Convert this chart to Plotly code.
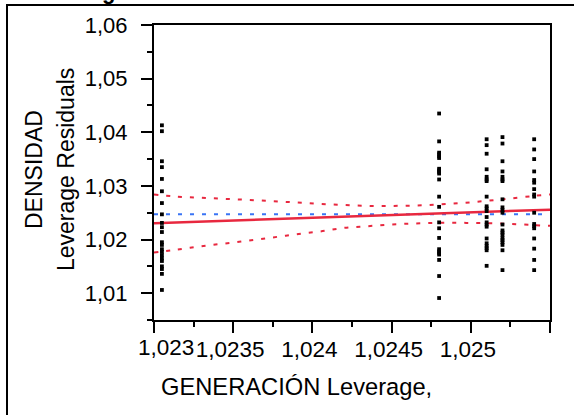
import plotly.graph_objects as go

# ---- axis ticks ----
y_tick_vals = [1.01, 1.02, 1.03, 1.04, 1.05, 1.06]
y_tick_text = ["1,01", "1,02", "1,03", "1,04", "1,05", "1,06"]
x_tick_vals = [1.023, 1.0235, 1.024, 1.0245, 1.025, 1.0255]
x_tick_text = ["1,023", "1,0235", "1,024", "1,0245", "1,025", ""]
x_range = [1.023, 1.0255]
y_range = [1.005, 1.06]

# ---- leverage x positions of the five groups ----
x_levels = [1.02305, 1.02480, 1.02510, 1.02520, 1.02540]

# ---- leverage residuals per group ----
y_g1 = [1.0413, 1.0402, 1.0346, 1.0335, 1.0313, 1.0290, 1.0268, 1.0247, 1.0231, 1.0223, 1.0214,
        1.0195, 1.0190, 1.0182, 1.0177, 1.0171, 1.0165, 1.0160, 1.0150, 1.0145, 1.0136, 1.0106]
y_g2 = [1.0435, 1.0383, 1.0362, 1.0359, 1.0355, 1.0352, 1.0332, 1.0329, 1.0326, 1.0323, 1.0312,
        1.0280, 1.0261, 1.0232, 1.0221, 1.0203, 1.0182, 1.0178, 1.0175, 1.0172, 1.0162, 1.0132, 1.0091]
y_g3 = [1.0387, 1.0376, 1.0360, 1.0331, 1.0317, 1.0312, 1.0309, 1.0280, 1.0262, 1.0258, 1.0253,
        1.0242, 1.0232, 1.0228, 1.0224, 1.0202, 1.0193, 1.0188, 1.0184, 1.0180, 1.0151]
y_g4 = [1.0391, 1.0379, 1.0346, 1.0327, 1.0317, 1.0312, 1.0309, 1.0275, 1.0260, 1.0255, 1.0250,
        1.0228, 1.0217, 1.0213, 1.0209, 1.0203, 1.0199, 1.0195, 1.0190, 1.0180, 1.0143]
y_g5 = [1.0387, 1.0368, 1.0350, 1.0327, 1.0311, 1.0306, 1.0294, 1.0284, 1.0280, 1.0250, 1.0229,
        1.0225, 1.0221, 1.0202, 1.0183, 1.0162, 1.0143]

# ---- fit line, mean line, confidence curves ----
fit_x = [1.0230, 1.0255]
fit_y = [1.02305, 1.02557]
mean_y = 1.02473
curve_x = [1.0230, 1.02315, 1.0233, 1.02345, 1.0236, 1.02375, 1.0239, 1.02405, 1.0242,
           1.02435, 1.0245, 1.02465, 1.0248, 1.02495, 1.0251, 1.02525, 1.0254, 1.0255]
upper_y = [1.02840, 1.02799, 1.02780, 1.02758, 1.02739, 1.02715, 1.02691, 1.02665, 1.02646,
           1.02628, 1.02627, 1.02635, 1.02654, 1.02683, 1.02721, 1.02765, 1.02814, 1.02840]
lower_y = [1.01759, 1.01815, 1.01877, 1.01927, 1.01983, 1.02039, 1.02100, 1.02151, 1.02218,
           1.02249, 1.02281, 1.02300, 1.02311, 1.02311, 1.02305, 1.02292, 1.02268, 1.02255]

RED = "#e8283f"
BLUE = "#3a74f5"
FONT = "Liberation Sans, Arial, sans-serif"

fig = go.Figure()
fig.add_trace(go.Scatter(x=x_range, y=[mean_y, mean_y], mode="lines",
                         line=dict(color=BLUE, width=2, dash="4px,8px"), hoverinfo="skip"))
fig.add_trace(go.Scatter(x=curve_x, y=upper_y, mode="lines", line_shape="spline",
                         line=dict(color=RED, width=2, dash="4px,8px"), hoverinfo="skip"))
fig.add_trace(go.Scatter(x=curve_x, y=lower_y, mode="lines", line_shape="spline",
                         line=dict(color=RED, width=2, dash="4px,8px"), hoverinfo="skip"))
fig.add_trace(go.Scatter(x=fit_x, y=fit_y, mode="lines",
                         line=dict(color=RED, width=2.5), hoverinfo="skip"))

groups = [y_g1, y_g2, y_g3, y_g4, y_g5]
for lev, ys in zip(x_levels, groups):
    fig.add_trace(go.Scatter(x=[lev] * len(ys), y=ys, mode="markers",
                             marker=dict(symbol="square", size=3.8, color="black",
                                         line=dict(width=0))))

fig.update_xaxes(range=x_range, tickvals=x_tick_vals, ticktext=[""] + x_tick_text[1:],
                 showline=True, linecolor="black", linewidth=2, mirror=True,
                 ticks="outside", ticklen=11, tickwidth=2, tickcolor="black",
                 showgrid=False, zeroline=False, ticklabelstandoff=-3, ticklabelshift=-3,
                 tickfont=dict(family=FONT, size=22.5, color="black"),
                 minor=dict(dtick=0.00025, tick0=1.023, ticks="outside", ticklen=5,
                            tickwidth=2, tickcolor="black", showgrid=False))
fig.update_yaxes(range=y_range, tickvals=y_tick_vals, ticktext=y_tick_text,
                 showline=True, linecolor="black", linewidth=2, mirror=True,
                 ticks="outside", ticklen=11, tickwidth=2, tickcolor="black",
                 showgrid=False, zeroline=False, ticklabelstandoff=9,
                 tickfont=dict(family=FONT, size=22, color="black"),
                 minor=dict(dtick=0.005, tick0=1.0, ticks="outside", ticklen=5,
                            tickwidth=2, tickcolor="black", showgrid=False))

pw, ph, L, T = 396.0, 295.0, 154.0, 25.0
def px(xp):
    return (xp - L) / pw
def py(yp):
    return (T + ph - yp) / ph

fig.add_shape(type="rect", xref="paper", yref="paper",
              x0=px(7), x1=px(590), y0=py(430), y1=py(5),
              line=dict(color="black", width=2), fillcolor="rgba(0,0,0,0)")

# first x tick label, nudged right as in the original
fig.add_annotation(text=x_tick_text[0], xref="paper", yref="paper",
                   x=px(136), y=py(347), xanchor="left", yanchor="middle", showarrow=False,
                   font=dict(family=FONT, size=22.5, color="black"))

fig.add_annotation(text="<b>Leverage Plot</b>", xref="paper", yref="paper",
                   x=px(29), y=py(6), xanchor="left", yanchor="bottom", showarrow=False,
                   font=dict(family=FONT, size=22, color="black"))
fig.add_annotation(text="GENERACIÓN Leverage,", xref="paper", yref="paper",
                   x=px(296.5), y=py(387), xanchor="center", yanchor="middle", showarrow=False,
                   font=dict(family=FONT, size=23.7, color="black"))
fig.add_annotation(text="DENSIDAD", xref="paper", yref="paper", textangle=-90,
                   x=px(34), y=py(170), xanchor="center", yanchor="middle", showarrow=False,
                   font=dict(family=FONT, size=23, color="black"))
fig.add_annotation(text="Leverage Residuals", xref="paper", yref="paper", textangle=-90,
                   x=px(66), y=py(170), xanchor="center", yanchor="middle", showarrow=False,
                   font=dict(family=FONT, size=23, color="black"))

fig.update_layout(width=574, height=415, margin=dict(l=154, r=24, t=25, b=95),
                  paper_bgcolor="white", plot_bgcolor="white", showlegend=False,
                  font=dict(family=FONT, color="black"))

fig.write_html("out.html", post_script="document.body.style.margin='0';",
               config={"displayModeBar": False})
